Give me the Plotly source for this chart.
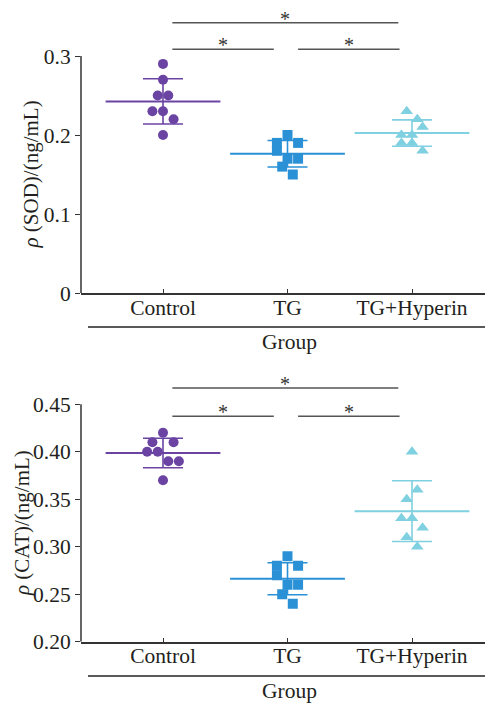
import numpy as np
import plotly.graph_objects as go

# ---------------- data ----------------
groups = ["Control", "TG", "TG+Hyperin"]

sod_control = [0.29, 0.27, 0.25, 0.25, 0.23, 0.23, 0.22, 0.20]
sod_tg = [0.19, 0.20, 0.19, 0.18, 0.17, 0.17, 0.16, 0.15]
sod_hyperin = [0.23, 0.22, 0.20, 0.20, 0.21, 0.19, 0.19, 0.18]

cat_control = [0.41, 0.42, 0.41, 0.40, 0.40, 0.39, 0.39, 0.37]
cat_tg = [0.28, 0.29, 0.28, 0.27, 0.26, 0.26, 0.25, 0.24]
cat_hyperin = [0.40, 0.35, 0.36, 0.33, 0.33, 0.32, 0.31, 0.30]

sod_ticks = [0, 0.1, 0.2, 0.3]
sod_ticktext = ["0", "0.1", "0.2", "0.3"]
cat_ticks = [0.20, 0.25, 0.30, 0.35, 0.40, 0.45]
cat_ticktext = ["0.20", "0.25", "0.30", "0.35", "0.40", "0.45"]

comparisons = [(0, 1), (1, 2), (0, 2)]
comparison_labels = ["*", "*", "*"]

# ---------------- style ----------------
colors = ["#6b44a3", "#2b91d6", "#7fd0e0"]
symbols = ["circle", "square", "triangle-up"]
msizes = [10, 10, 11]
FONT = "Liberation Serif"
TXT = "#231f20"
OFF = 8                      # page body margin
W, H = 493 - OFF, 704 - OFF  # figure size
SLOT = 0.085                 # horizontal spacing of swarm points (x units)


def pxx(x):
    return (x - OFF) / W


def pxy(y):
    return 1 - (y - OFF) / H


def swarm_offsets(values, span):
    """Prism-like row arrangement: bin sorted values into rows, spread each row."""
    thr = 0.0506 * span
    order = sorted(range(len(values)), key=lambda i: (-values[i], i))
    rows = []
    for i in order:
        if rows and rows[-1][0] - values[i] <= thr + 1e-9:
            rows[-1][1].append(i)
        else:
            rows.append([values[i], [i]])
    offs = [0.0] * len(values)
    for _, members in rows:
        members = sorted(members)
        n = len(members)
        for k, i in enumerate(members):
            offs[i] = (k - (n - 1) / 2) * SLOT
    return offs


fig = go.Figure()

xr = [(81 - 163) / 124.5, (493 - 163) / 124.5]

panels = [
    dict(data=[sod_control, sod_tg, sod_hyperin], xa="x", ya="y",
         ticks=sod_ticks, ticktext=sod_ticktext,
         ypx0=293, ypx1=56, v0=0.0, v1=0.3, top_px=8,
         title="<i>ρ</i> (SOD)/(ng/mL)", title_x=30,
         bars=[0.3085, 0.3085, 0.3420], group_px=327),
    dict(data=[cat_control, cat_tg, cat_hyperin], xa="x2", ya="y2",
         ticks=cat_ticks, ticktext=cat_ticktext,
         ypx0=641.7, ypx1=404.3, v0=0.20, v1=0.45, top_px=365,
         title="<i>ρ</i> (CAT)/(ng/mL)", title_x=22,
         bars=[0.4375, 0.4375, 0.4672], group_px=676),
]

layout_axes = {}
shapes = []
annotations = []

for p_i, p in enumerate(panels):
    span = p["v1"] - p["v0"]
    pxu = (p["ypx0"] - p["ypx1"]) / span
    ytop = p["v0"] + (p["ypx0"] - p["top_px"]) / pxu
    for g, vals in enumerate(p["data"]):
        offs = swarm_offsets(vals, span)
        fig.add_trace(go.Scatter(
            x=[g + o for o in offs], y=vals, mode="markers",
            marker=dict(symbol=symbols[g], size=msizes[g], color=colors[g],
                        line=dict(width=0)),
            xaxis=p["xa"], yaxis=p["ya"], showlegend=False, hoverinfo="y"))
        m = float(np.mean(vals))
        sd = float(np.std(vals, ddof=1))
        fig.add_trace(go.Scatter(
            x=[g], y=[m], mode="markers",
            marker=dict(symbol="line-ew", size=82,
                        line=dict(width=2, color=colors[g])),
            error_y=dict(type="data", array=[sd], visible=True,
                         color=colors[g], thickness=1.6, width=20),
            xaxis=p["xa"], yaxis=p["ya"], showlegend=False, hoverinfo="y"))

    dom_y = [pxy(p["ypx0"]), pxy(p["top_px"])]
    suffix = "" if p_i == 0 else "2"
    layout_axes["xaxis" + suffix] = dict(
        domain=[pxx(81), 1], range=xr, anchor="y" + suffix,
        tickmode="array", tickvals=[0, 1, 2], ticktext=groups,
        ticks="inside", ticklen=4, tickwidth=1, tickcolor="#333",
        showline=True, linecolor="#333", linewidth=1.5,
        showgrid=False, zeroline=False, automargin=False,
        ticklabelstandoff=-6,
        tickfont=dict(family=FONT, size=21.5, color=TXT), fixedrange=True)
    layout_axes["yaxis" + suffix] = dict(
        domain=dom_y, range=[p["v0"], ytop], anchor="x" + suffix,
        tickmode="array", tickvals=p["ticks"], ticktext=p["ticktext"],
        ticks="outside", ticklen=5, tickwidth=1, tickcolor="#333",
        showline=False, showgrid=False, zeroline=False, automargin=False,
        tickfont=dict(family=FONT, size=21.5, color=TXT), fixedrange=True)

    # y axis line only over the tick span
    shapes.append(dict(type="line", xref=p["xa"] + " domain", yref=p["ya"],
                       x0=0, x1=0, y0=p["v0"], y1=p["v1"],
                       line=dict(color="#333", width=1.5)))

    # significance brackets
    for (a, b), lab, yb in zip(comparisons, comparison_labels, p["bars"]):
        x0 = a + 0.075
        x1 = b - 0.11
        if (a, b) == (1, 2):
            x0 = a + 0.085
            x1 = b - 0.10
        shapes.append(dict(type="line", xref=p["xa"], yref=p["ya"],
                           x0=x0, x1=x1, y0=yb, y1=yb,
                           line=dict(color="#555", width=1.5)))
        annotations.append(dict(xref=p["xa"], yref=p["ya"], x=(x0 + x1) / 2,
                                y=yb - 9 / pxu, text=lab, showarrow=False,
                                xanchor="center", yanchor="bottom",
                                font=dict(family=FONT, size=20, color="#333")))

    # y-axis title
    annotations.append(dict(xref="paper", yref="paper", x=pxx(p["title_x"]),
                            y=pxy((p["ypx0"] + p["ypx1"]) / 2),
                            text=p["title"], textangle=-90, showarrow=False,
                            xanchor="center", yanchor="middle",
                            font=dict(family=FONT, size=21, color=TXT)))
    # Group underline and label
    shapes.append(dict(type="line", xref="paper", yref="paper",
                       x0=pxx(88), x1=pxx(490),
                       y0=pxy(p["group_px"]), y1=pxy(p["group_px"]),
                       line=dict(color="#222", width=1.5)))
    annotations.append(dict(xref="paper", yref="paper", x=pxx(289),
                            y=pxy(p["group_px"] + 15), text="Group",
                            showarrow=False, xanchor="center", yanchor="middle",
                            font=dict(family=FONT, size=21.5, color=TXT)))

fig.update_layout(
    width=W, height=H, template="none",
    margin=dict(l=0, r=0, t=0, b=0),
    paper_bgcolor="white", plot_bgcolor="white",
    shapes=shapes, annotations=annotations, showlegend=False,
    **layout_axes)

fig.write_html("out.html")
